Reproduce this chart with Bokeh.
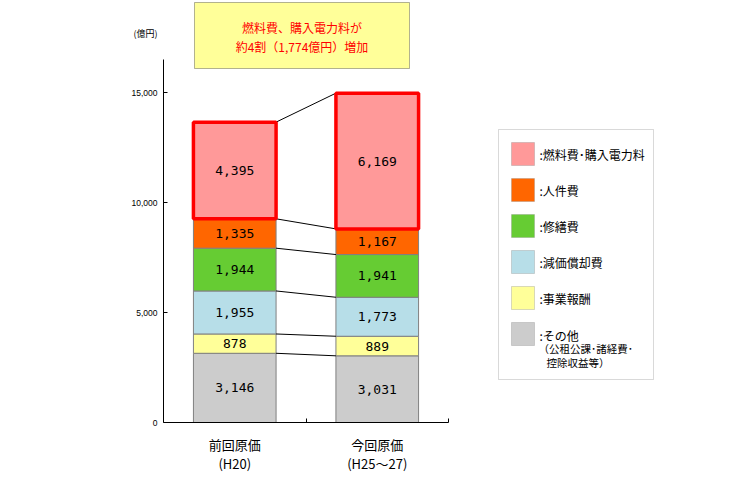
import numpy as np
from bokeh.plotting import figure
from bokeh.models import (Range1d, FixedTicker, NumeralTickFormatter, BoxAnnotation, Label,
                          LinearAxis)
from bokeh.core.properties import value
from bokeh.embed import file_html
from bokeh.resources import INLINE

# ---------------- data ----------------
categories = ["前回原価", "今回原価"]
category_subs = ["(H20)", "(H25～27)"]
other = [3146, 3031]            # その他
business_return = [878, 889]    # 事業報酬
depreciation = [1955, 1773]     # 減価償却費
repair = [1944, 1941]           # 修繕費
personnel = [1335, 1167]        # 人件費
fuel = [4395, 6169]             # 燃料費・購入電力料
y_ticks = [0, 5000, 10000, 15000]
y_max = 16500
legend_labels = [":燃料費･購入電力料", ":人件費", ":修繕費", ":減価償却費", ":事業報酬", ":その他"]
legend_sub = ["（公租公課･諸経費･", "控除収益等）"]
title_lines = ["燃料費、購入電力料が", "約4割（1,774億円）増加"]
unit_label = "(億円)"

series = [other, business_return, depreciation, repair, personnel, fuel]
colors = ["#CCCCCC", "#FFFF99", "#B7DEE8", "#66CC33", "#FF6600", "#FF9999"]

JP = "Noto Sans CJK JP"
MONO = "DejaVu Sans Mono"

# ---------------- layout (canvas px) ----------------
W, H = 714, 476
PLOT_L, PLOT_R, PLOT_T, PLOT_B = 163, 448, 59, 422   # chart area in canvas px
n = len(categories)
kx = (PLOT_R - PLOT_L) / n          # px per category unit
ky = (PLOT_B - PLOT_T) / y_max      # px per value unit

def sx(cx):
    return cx

def sy(cy):
    return H - cy

xs = np.arange(n) + 0.5
bar_w = 0.58
vals = np.array(series, dtype=float)
tops = np.cumsum(vals, axis=0)
bottoms = tops - vals

p = figure(width=W, height=H,
           x_range=Range1d(-PLOT_L / kx, n + (W - PLOT_R) / kx),
           y_range=Range1d(-(H - PLOT_B) / ky, y_max + PLOT_T / ky),
           output_backend="svg", toolbar_location=None,
           x_axis_location=None, y_axis_location=None, min_border=0)
p.outline_line_color = None
p.grid.visible = False
p.background_fill_color = "white"
p.border_fill_color = "white"

# non-fuel segments
for i in range(len(series) - 1):
    p.vbar(x=xs, bottom=bottoms[i], top=tops[i], width=bar_w,
           fill_color=colors[i], line_color="#808080", line_width=1)

# connector lines between stacks
for i in range(len(series)):
    p.segment(x0=[xs[0] + bar_w / 2], y0=[tops[i][0]],
              x1=[xs[1] - bar_w / 2], y1=[tops[i][1]],
              line_color="black", line_width=1)

# fuel segment with red frame
p.vbar(x=xs, bottom=bottoms[-1], top=tops[-1], width=bar_w,
       fill_color=colors[-1], line_color="#FF0000", line_width=3.5)

# value labels
lx, ly, lt = [], [], []
for i in range(len(series)):
    for j in range(n):
        lx.append(xs[j])
        ly.append((bottoms[i][j] + tops[i][j]) / 2)
        lt.append(f"{int(vals[i][j]):,}")
p.text(x=lx, y=ly, text=lt, text_align="center", text_baseline="middle",
       text_font=value(MONO), text_font_size="13px", text_color="black")

# axes
yax = LinearAxis(fixed_location=0, bounds=(0, y_max))
yax.ticker = FixedTicker(ticks=y_ticks)
yax.formatter = NumeralTickFormatter(format="0,0")
yax.major_tick_in = 4
yax.major_tick_out = 0
yax.minor_tick_line_color = None
yax.major_label_text_font_size = "8.5px"
yax.major_label_text_font = "Liberation Sans"
yax.major_label_text_color = "black"
yax.major_label_standoff = 6
yax.axis_line_color = "black"
yax.major_tick_line_color = "black"
p.add_layout(yax, "left")

xax = LinearAxis(fixed_location=0, bounds=(0, n))
xax.ticker = FixedTicker(ticks=list(xs), minor_ticks=list(range(1, n + 1)))
xax.major_label_overrides = {float(x): f"{c}\n{s}" for x, c, s in zip(xs, categories, category_subs)}
xax.major_tick_in = 0
xax.major_tick_out = 0
xax.minor_tick_in = 4
xax.minor_tick_out = 0
xax.minor_tick_line_color = "black"
xax.major_label_text_font = JP
xax.major_label_text_font_size = "13px"
xax.major_label_text_color = "black"
xax.major_label_text_line_height = 1.0
xax.major_label_standoff = 12
xax.axis_line_color = "black"
p.add_layout(xax, "below")

# unit label
p.add_layout(Label(x=sx(133), y=sy(33), x_units="screen", y_units="screen", text=unit_label,
                   text_font=JP, text_font_size="9px", text_baseline="middle", text_align="left",
                   text_color="black"))

# title box
p.add_layout(BoxAnnotation(left=sx(194), right=sx(409), top=sy(2), bottom=sy(68),
                           left_units="screen", right_units="screen", top_units="screen", bottom_units="screen",
                           fill_color="#FFFF99", fill_alpha=1, line_color="black", line_width=1))
for k, t in enumerate(title_lines):
    p.add_layout(Label(x=sx(301.5), y=sy(27 + 19 * k), x_units="screen", y_units="screen", text=t,
                       text_font=JP, text_font_size="12px", text_align="center", text_baseline="middle",
                       text_color="#FF0000"))

# legend box
p.add_layout(BoxAnnotation(left=sx(498), right=sx(653), top=sy(129), bottom=sy(379),
                           left_units="screen", right_units="screen", top_units="screen", bottom_units="screen",
                           fill_color="white", fill_alpha=1, line_color="#808080", line_width=1))
legend_colors = colors[::-1]
for k, (lab, col) in enumerate(zip(legend_labels, legend_colors)):
    top = 142 + 36 * k
    p.add_layout(BoxAnnotation(left=sx(511), right=sx(534), top=sy(top), bottom=sy(top + 23),
                               left_units="screen", right_units="screen", top_units="screen", bottom_units="screen",
                               fill_color=col, fill_alpha=1, line_color="#808080", line_width=1))
    ty = top + 11.5 + (1.5 if k == len(legend_labels) - 1 else 0)
    p.add_layout(Label(x=sx(539), y=sy(ty), x_units="screen", y_units="screen", text=lab,
                       text_font=JP, text_font_size="12px", text_align="left", text_baseline="middle",
                       text_color="black"))
p.add_layout(Label(x=sx(538), y=sy(348), x_units="screen", y_units="screen", text=legend_sub[0],
                   text_font=JP, text_font_size="10.5px", text_align="left", text_baseline="middle",
                   text_color="black"))
p.add_layout(Label(x=sx(546), y=sy(362), x_units="screen", y_units="screen", text=legend_sub[1],
                   text_font=JP, text_font_size="10.5px", text_align="left", text_baseline="middle",
                   text_color="black"))

open("out.html", "w").write(file_html(p, INLINE))
